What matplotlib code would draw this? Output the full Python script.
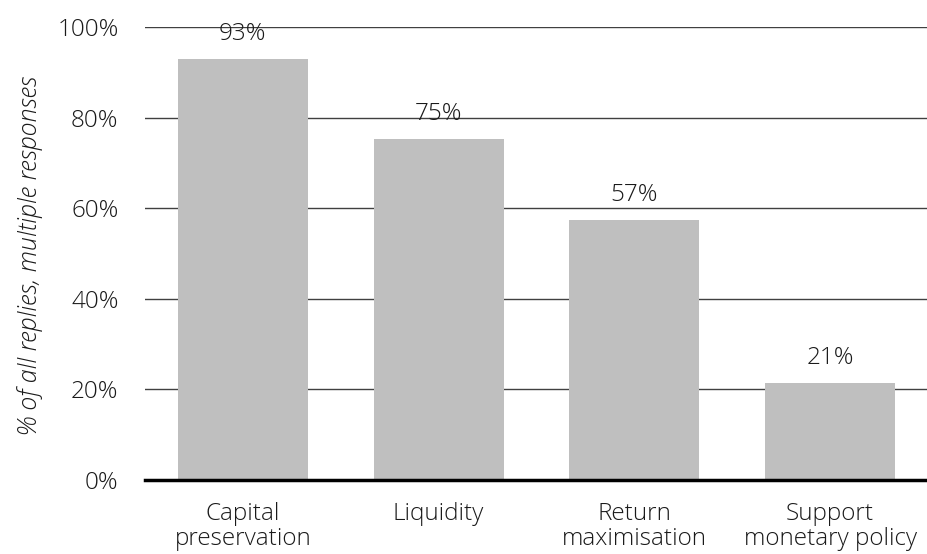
import matplotlib
matplotlib.use("Agg")
import matplotlib.pyplot as plt
from matplotlib.ticker import FuncFormatter

categories = ["Capital\npreservation", "Liquidity", "Return\nmaximisation", "Support\nmonetary policy"]
values = [93.0, 75.2, 57.3, 21.5]
value_labels = ["93%", "75%", "57%", "21%"]
yticks = [0, 20, 40, 60, 80, 100]
ylabel = "% of all replies, multiple responses"

plt.rcParams['font.family'] = ['Open Sans', 'DejaVu Sans']
plt.rcParams['font.weight'] = 'light'
FS = 17.5
TC = "#1a1a1a"

fig = plt.figure(figsize=(9.28, 5.54), dpi=100)
ax = fig.add_axes([145/928, (554-480)/554, (928-145)/928, (480-27)/554])

x = list(range(len(categories)))
ax.bar(x, values, width=0.665, color="#bfbfbf", zorder=2)

for xi, v, lab in zip(x, values, value_labels):
    ax.annotate(lab, (xi, v), xytext=(0, 18), textcoords="offset points",
                ha="center", va="center", fontsize=FS, color=TC, zorder=3,
                fontweight="light")

ax.set_xlim(-0.5, len(categories) - 0.5)
ax.set_ylim(0, 100)
ax.set_yticks(yticks)
ax.yaxis.set_major_formatter(FuncFormatter(lambda v, p: f"{v:.0f}%"))
ax.set_xticks(x)
ax.set_xticklabels(categories, fontsize=FS, linespacing=1.04, color=TC, fontweight="light")
for t in ax.get_yticklabels():
    t.set_fontweight("light")
ax.tick_params(axis="y", length=0, pad=19, labelsize=FS, labelcolor=TC)
ax.tick_params(axis="x", length=0, pad=16)

ax.yaxis.grid(True, color="#404040", linewidth=1.0, zorder=1)
ax.set_axisbelow(True)
for s in ["top", "right", "left"]:
    ax.spines[s].set_visible(False)
ax.spines["bottom"].set_linewidth(2.5)
ax.spines["bottom"].set_color("black")
ax.spines["bottom"].set_zorder(4)

fig.text(30/928, 1 - 255/554, ylabel, rotation=90, ha="center", va="center",
         fontsize=FS + 0.5, style="italic", color=TC, fontweight="light")

fig.savefig("out.png", dpi=100)
